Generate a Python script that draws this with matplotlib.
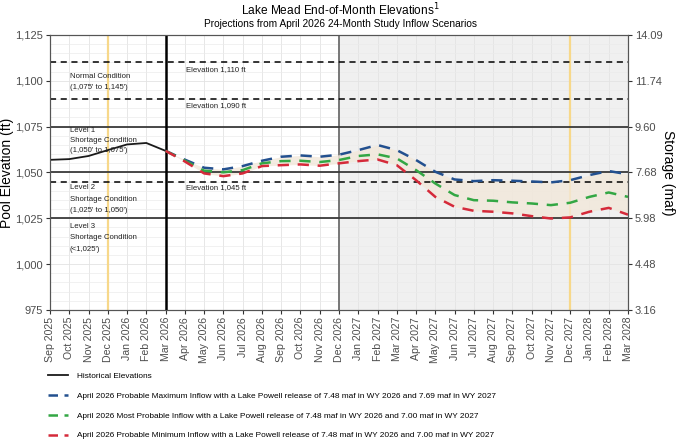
import numpy as np
import matplotlib
matplotlib.use("Agg")
import matplotlib.pyplot as plt
from matplotlib.lines import Line2D
from matplotlib.ticker import FixedLocator, MultipleLocator

plt.rcParams['font.family'] = ['Liberation Sans', 'DejaVu Sans']

months = ['Sep 2025', 'Oct 2025', 'Nov 2025', 'Dec 2025', 'Jan 2026', 'Feb 2026',
          'Mar 2026', 'Apr 2026', 'May 2026', 'Jun 2026', 'Jul 2026', 'Aug 2026',
          'Sep 2026', 'Oct 2026', 'Nov 2026', 'Dec 2026', 'Jan 2027', 'Feb 2027',
          'Mar 2027', 'Apr 2027', 'May 2027', 'Jun 2027', 'Jul 2027', 'Aug 2027',
          'Sep 2027', 'Oct 2027', 'Nov 2027', 'Dec 2027', 'Jan 2028', 'Feb 2028',
          'Mar 2028']

# Sep 2025 .. Mar 2026
historical = [1056.9, 1057.3, 1059.0, 1062.2, 1065.3, 1066.1, 1061.8]

# Mar 2026 .. Mar 2028
max_inflow = [1061.8, 1057.0, 1052.6, 1051.7, 1053.5, 1056.4, 1058.6, 1059.3, 1058.6,
              1059.7, 1062.2, 1065.0, 1062.2, 1056.8, 1050.4, 1046.2, 1045.3, 1045.8,
              1045.5, 1045.1, 1044.6, 1045.8, 1048.6, 1050.8, 1049.0]
most_probable = [1061.8, 1056.5, 1051.0, 1050.1, 1051.3, 1055.0, 1056.2, 1056.4, 1055.7,
                 1056.8, 1059.0, 1059.9, 1057.7, 1051.3, 1044.0, 1037.7, 1034.9, 1034.6,
                 1033.7, 1033.1, 1032.2, 1033.5, 1036.7, 1039.1, 1036.7]
min_inflow = [1061.8, 1056.0, 1049.5, 1048.0, 1049.5, 1053.5, 1054.0, 1054.4, 1053.7,
              1055.0, 1056.2, 1057.1, 1054.0, 1045.8, 1036.7, 1031.3, 1029.1, 1028.6,
              1027.7, 1026.2, 1024.9, 1025.5, 1028.6, 1030.7, 1027.0]

elev_ticks = [975, 1000, 1025, 1050, 1075, 1100, 1125]
storage_labels = ['3.16', '4.48', '5.98', '7.68', '9.60', '11.74', '14.09']

solid_levels = [1075, 1050, 1025]
dashed_levels = [1110, 1090, 1045]

legend_labels = [
    'Historical Elevations',
    'April 2026 Probable Maximum Inflow with a Lake Powell release of 7.48 maf in WY 2026 and 7.69 maf in WY 2027',
    'April 2026 Most Probable Inflow with a Lake Powell release of 7.48 maf in WY 2026 and 7.00 maf in WY 2027',
    'April 2026 Probable Minimum Inflow with a Lake Powell release of 7.48 maf in WY 2026 and 7.00 maf in WY 2027',
]

colors = {'hist': '#1a1a1a', 'max': '#23508f', 'mp': '#33a744', 'min': '#d52a3a'}

x_hist = np.arange(len(historical))
x_proj = np.arange(6, 6 + len(max_inflow))

fig = plt.figure(figsize=(6.8, 4.44), dpi=100)
ax = fig.add_axes([0.0735, 0.3018, 0.85, 0.6194])

ax.set_xlim(0, len(months) - 1)
ax.set_ylim(975, 1125)

ax.axvspan(15, len(months) - 1, color='#f0f0f0', zorder=0, lw=0)
ax.xaxis.set_major_locator(FixedLocator(range(len(months))))
ax.yaxis.set_major_locator(FixedLocator(elev_ticks))
ax.yaxis.set_minor_locator(MultipleLocator(5))
ax.grid(True, which='major', color='#e3e3e3', lw=0.6, zorder=1)
ax.grid(True, which='minor', axis='y', color='#ebebeb', lw=0.5, zorder=1)
ax.tick_params(axis='y', which='minor', length=0)

for lv in solid_levels:
    ax.axhline(lv, color='#3a3a3a', lw=1.3, zorder=3)
for lv in dashed_levels:
    ax.axhline(lv, color='black', lw=1.1, ls=(0, (4, 3)), zorder=3)

ax.axvline(3, color='#f7d88a', lw=1.6, zorder=2)
ax.axvline(27, color='#f7d88a', lw=1.6, zorder=2)
ax.axvline(15, color='#777777', lw=1.4, zorder=2)
ax.axvline(6, color='black', lw=1.8, zorder=3)

ax.fill_between(x_proj, min_inflow, max_inflow, color='#f2e8da', alpha=0.8, lw=0, zorder=2)

dash = (0, (4.5, 3.5))
ax.plot(x_hist, historical, color=colors['hist'], lw=1.3, zorder=4)
ax.plot(x_proj, max_inflow, color=colors['max'], lw=1.8, ls=dash, zorder=4)
ax.plot(x_proj, most_probable, color=colors['mp'], lw=1.8, ls=dash, zorder=4)
ax.plot(x_proj, min_inflow, color=colors['min'], lw=1.8, ls=dash, zorder=4)

txt = dict(fontsize=5.6, color='#222222', va='center', ha='left', zorder=5)
notes = [
    (1.02, 1102.6, 'Normal Condition'), (1.02, 1096.2, "(1,075' to 1,145')"),
    (1.02, 1073.0, 'Level 1'), (1.02, 1067.5, 'Shortage Condition'),
    (1.02, 1062.0, "(1,050' to 1,075')"),
    (1.02, 1041.7, 'Level 2'), (1.02, 1035.5, 'Shortage Condition'),
    (1.02, 1029.5, "(1,025' to 1,050')"),
    (1.02, 1020.7, 'Level 3'), (1.02, 1014.6, 'Shortage Condition'),
    (1.02, 1008.2, "(<1,025')"),
    (7.05, 1106.4, 'Elevation 1,110 ft'), (7.05, 1086.4, 'Elevation 1,090 ft'),
    (7.05, 1041.7, 'Elevation 1,045 ft'),
]
for xx, yy, s in notes:
    ax.text(xx, yy, s, **txt)

ax.set_xticklabels(months, rotation=90, fontsize=7.6, color='#4d4d4d')
ax.set_yticklabels([f'{v:,}' for v in elev_ticks], fontsize=8, color='#4d4d4d')
ax.tick_params(axis='both', which='major', color='#333333', length=3, pad=2)
ax.set_ylabel('Pool Elevation (ft)', fontsize=10, labelpad=1)
for sp in ax.spines.values():
    sp.set_color('#555555')
    sp.set_linewidth(0.8)

ax2 = ax.twinx()
ax2.set_ylim(975, 1125)
ax2.yaxis.set_major_locator(FixedLocator(elev_ticks))
ax2.set_yticklabels(storage_labels, fontsize=8, color='#4d4d4d')
ax2.tick_params(axis='y', color='#333333', length=3, pad=2)
ax2.set_ylabel('Storage (maf)', fontsize=10, rotation=-90, labelpad=9)
for sp in ax2.spines.values():
    sp.set_color('#555555')
    sp.set_linewidth(0.8)

fig.text(0.5, 0.978, 'Lake Mead End-of-Month Elevations$^{1}$', ha='center', va='center',
         fontsize=8.6)
fig.text(0.5, 0.945, 'Projections from April 2026 24-Month Study Inflow Scenarios',
         ha='center', va='center', fontsize=7.3)

leg_dash = (0, (3.8, 2.6))
handles = [
    Line2D([], [], color=colors['hist'], lw=1.3),
    Line2D([], [], color=colors['max'], lw=1.8, ls=leg_dash),
    Line2D([], [], color=colors['mp'], lw=1.8, ls=leg_dash),
    Line2D([], [], color=colors['min'], lw=1.8, ls=leg_dash),
]
fig.legend(handles, legend_labels, loc='upper left',
           bbox_to_anchor=(0.06, 0.178), frameon=False, fontsize=5.95,
           handlelength=2.45, labelspacing=1.45, handletextpad=1.05)

fig.savefig('out.png', dpi=100)
